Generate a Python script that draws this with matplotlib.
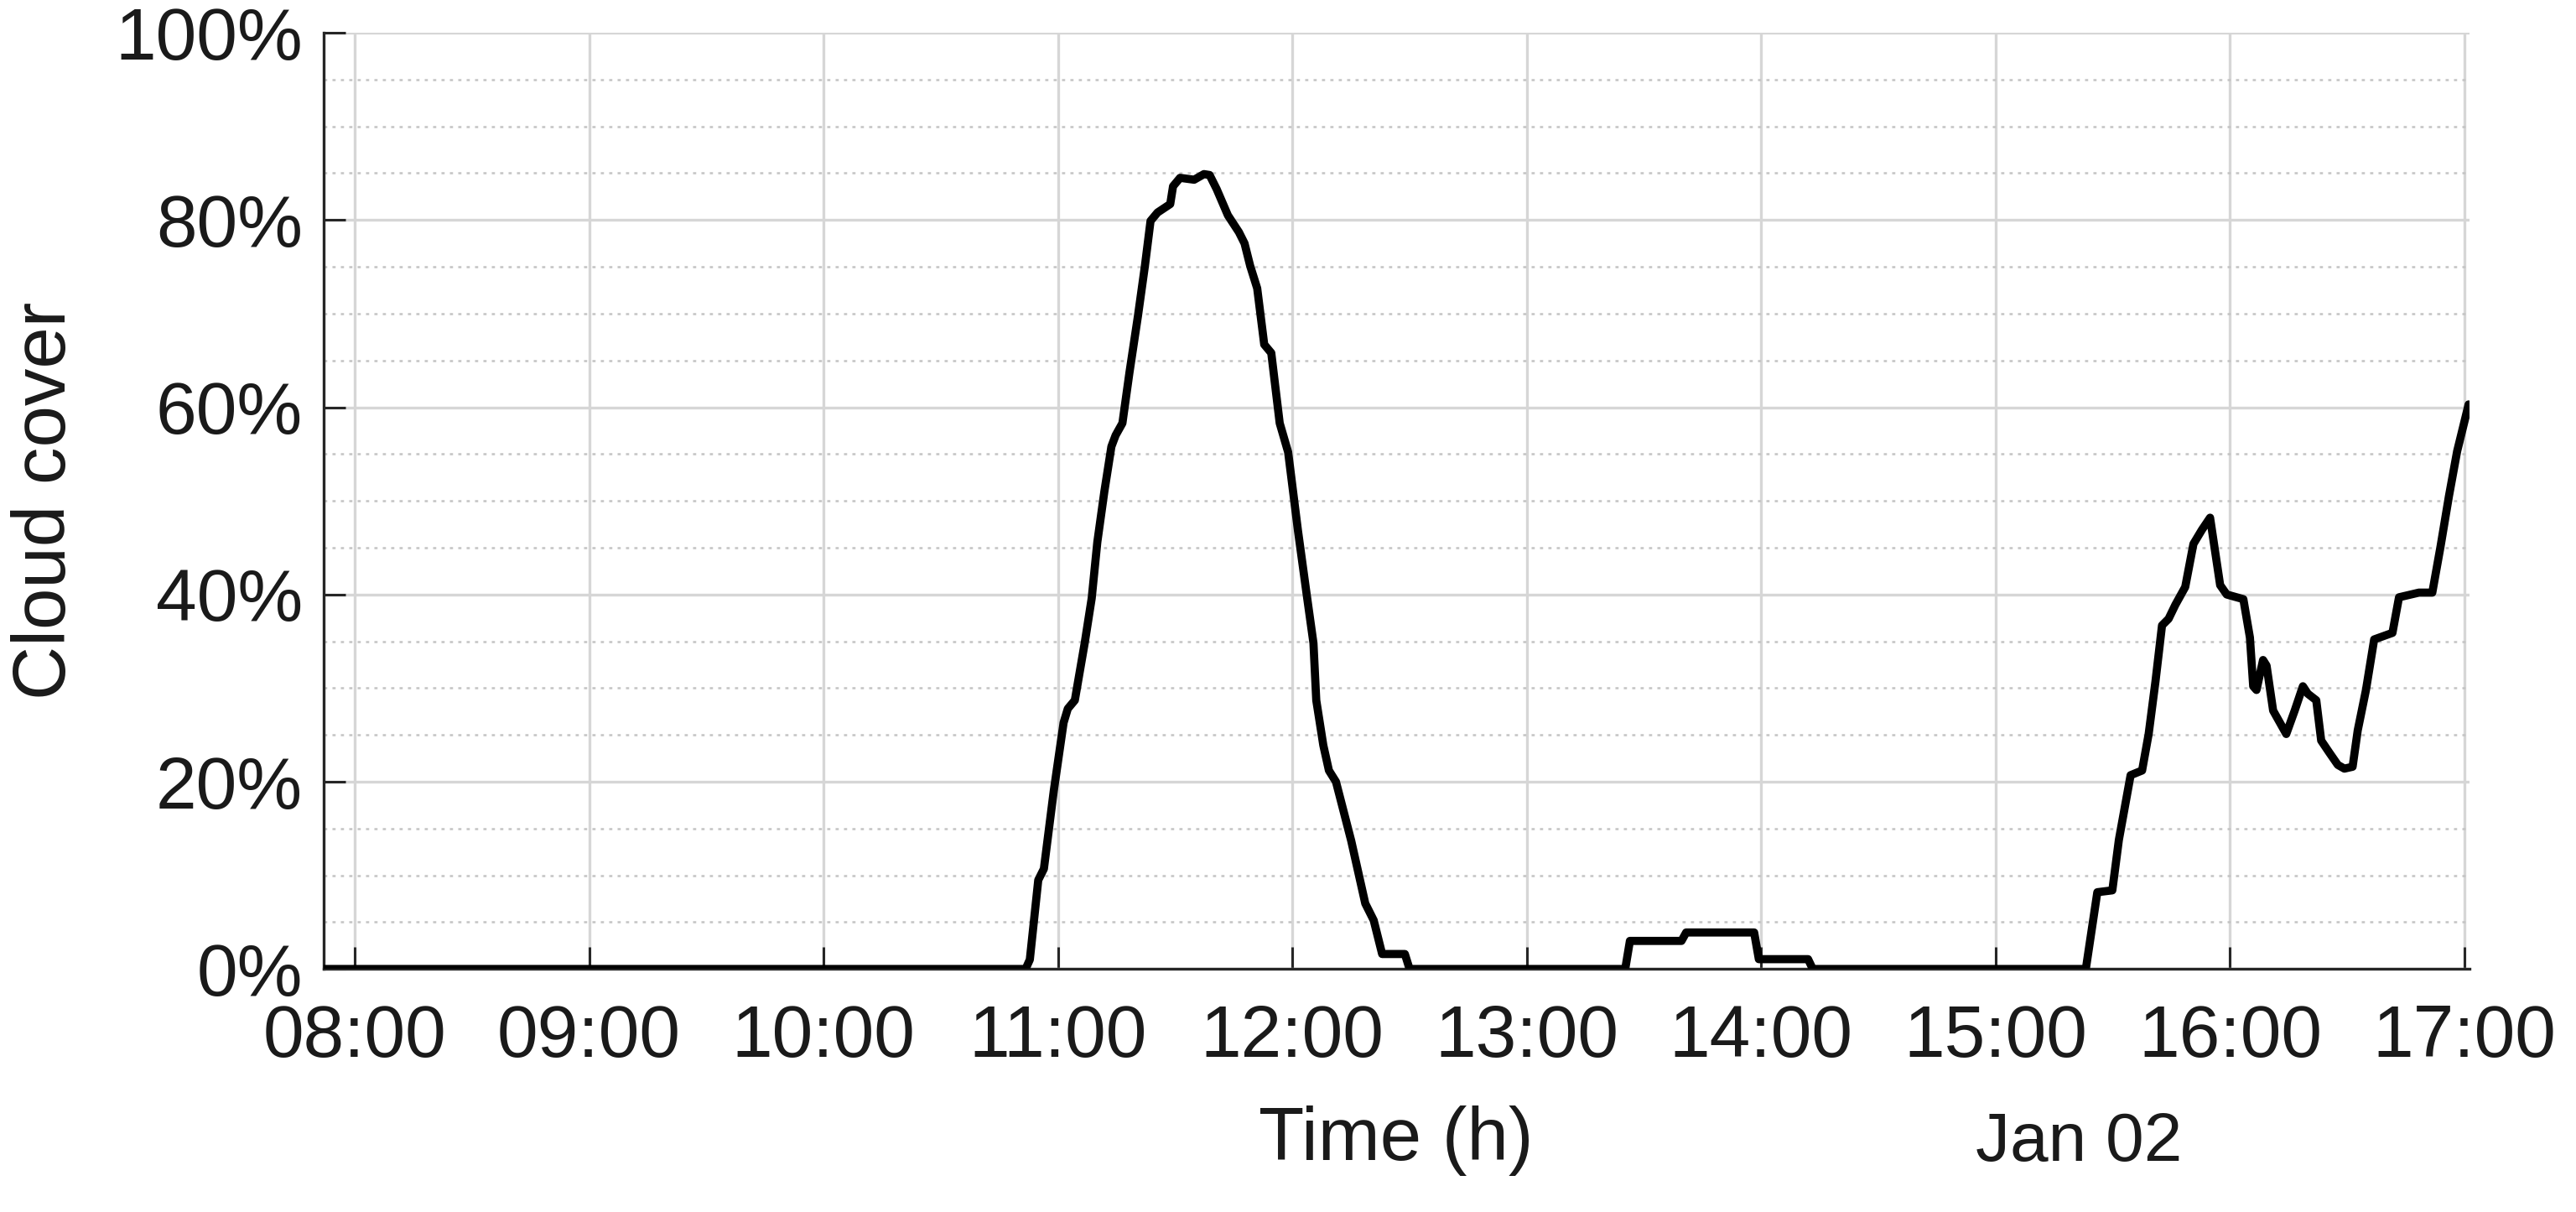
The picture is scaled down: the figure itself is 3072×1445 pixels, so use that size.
import matplotlib
matplotlib.use("Agg")
import matplotlib.pyplot as plt
import numpy as np

# ---- data (time in decimal hours, cloud cover in %) ----
hours = [7.867, 10.862, 10.88, 10.916, 10.94, 10.982, 11.024, 11.042, 11.072, 11.114,
         11.144, 11.168, 11.198, 11.228, 11.246, 11.275, 11.305, 11.341, 11.371, 11.395,
         11.425, 11.479, 11.491, 11.521, 11.581, 11.623, 11.647, 11.677, 11.725, 11.772,
         11.796, 11.82, 11.85, 11.88, 11.91, 11.946, 11.982, 12.024, 12.06, 12.09,
         12.102, 12.132, 12.156, 12.186, 12.251, 12.311, 12.347, 12.383, 12.48, 12.50,
         13.42, 13.44, 13.66, 13.68, 13.97, 13.99, 14.20, 14.22,
         15.385, 15.434, 15.498, 15.526, 15.576, 15.625, 15.653, 15.682, 15.71, 15.738,
         15.767, 15.809, 15.844, 15.88, 15.915, 15.958, 15.986, 16.057, 16.085, 16.099,
         16.113, 16.141, 16.156, 16.184, 16.24, 16.276, 16.311, 16.332, 16.368, 16.389,
         16.424, 16.46, 16.488, 16.523, 16.545, 16.58, 16.615, 16.693, 16.721, 16.806,
         16.863, 16.898, 16.934, 16.969, 17.018]
cover = [0, 0, 1.0, 9.5, 10.7, 19.0, 26.3, 27.8, 28.7, 34.8,
         39.6, 45.6, 51.0, 55.8, 57.0, 58.3, 63.7, 69.7, 75.1, 79.9,
         80.8, 81.7, 83.6, 84.5, 84.3, 84.9, 84.8, 83.3, 80.5, 78.7,
         77.5, 75.1, 72.7, 66.7, 65.8, 58.3, 55.2, 46.8, 40.2, 34.8,
         28.7, 23.9, 21.2, 20.0, 13.7, 7.0, 5.2, 1.6, 1.6, 0,
         0, 3.0, 3.0, 3.9, 3.9, 1.05, 1.05, 0,
         0, 8.2, 8.4, 13.8, 20.7, 21.2, 25.1, 30.7, 36.7, 37.4,
         38.9, 40.8, 45.4, 46.9, 48.2, 41.0, 40.0, 39.5, 35.4, 30.2,
         29.8, 33.0, 32.4, 27.6, 25.1, 27.6, 30.2, 29.4, 28.7, 24.4,
         23.1, 21.8, 21.4, 21.6, 25.5, 29.8, 35.2, 35.9, 39.7, 40.2,
         40.2, 45.1, 50.5, 55.3, 60.3]

xtick_hours = [8, 9, 10, 11, 12, 13, 14, 15, 16, 17]
xtick_labels = ["08:00", "09:00", "10:00", "11:00", "12:00",
                "13:00", "14:00", "15:00", "16:00", "17:00"]
ytick_vals = [0, 20, 40, 60, 80, 100]
ytick_labels = ["0%", "20%", "40%", "60%", "80%", "100%"]

plt.rcParams['font.family'] = ['Liberation Sans', 'DejaVu Sans']

fig = plt.figure(figsize=(30.72, 14.45), dpi=100)
ax = fig.add_axes([0.1256, 0.2005, 0.9585 - 0.1256, 0.973 - 0.2005])

axis_col = '#262626'
ax.plot(hours, cover, color='black', lw=7, solid_joinstyle='round',
        solid_capstyle='round', zorder=3)

ax.set_xlim(7.867, 17.02)
ax.set_ylim(0, 100)
ax.set_xticks(xtick_hours)
ax.set_xticklabels(xtick_labels)
ax.set_yticks(ytick_vals)
ax.set_yticklabels(ytick_labels)
ax.set_yticks(np.arange(0, 101, 5), minor=True)

ax.grid(True, which='major', color='#d6d6d6', lw=2.4, linestyle='-', zorder=0)
ax.grid(True, which='minor', axis='y', color='#c4c4c4', lw=1.8, linestyle=(0, (1.5, 2.5)), zorder=0)

for s in ['top', 'right']:
    ax.spines[s].set_visible(False)
for s in ['left', 'bottom']:
    ax.spines[s].set_color(axis_col)
    ax.spines[s].set_linewidth(2.4)

ax.tick_params(axis='both', which='major', direction='in', length=19, width=2.2,
               color=axis_col, labelcolor='#1a1a1a', labelsize=63)
ax.tick_params(axis='y', which='major', pad=18)
ax.tick_params(axis='x', which='major', pad=30)
ax.tick_params(axis='both', which='minor', length=0)

fig.text(0.0179, 0.587, "Cloud cover", rotation=90, ha='center', va='center',
         fontsize=64, color='#1a1a1a')
fig.text(0.542, 0.059, "Time (h)", ha='center', va='center', fontsize=64, color='#1a1a1a')
fig.text(0.807, 0.057, "Jan 02", ha='center', va='center', fontsize=59, color='#1a1a1a')

fig.savefig("out.png", dpi=100, facecolor='white')
